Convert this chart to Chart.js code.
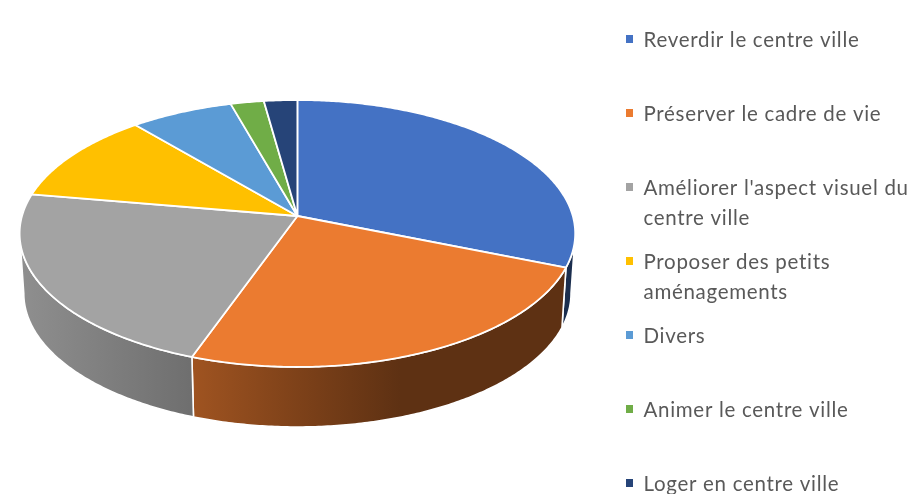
<!DOCTYPE html>
<html>
<head>
<meta charset="utf-8">
<script src="https://cdn.jsdelivr.net/npm/chart.js@4"></script>
<style>
html, body { margin: 0; padding: 0; background: #fff; overflow: hidden; }
canvas { display: block; filter: blur(0.45px); }
</style>
</head>
<body>
<canvas id="PieChart" width="914" height="494"></canvas>
<script>
const categories = [
    'Reverdir le centre ville',
    'Préserver le cadre de vie',
    ["Améliorer l'aspect visuel du", 'centre ville'],
    ['Proposer des petits', 'aménagements'],
    'Divers',
    'Animer le centre ville',
    'Loger en centre ville'
];
const seriesValues = [31.1, 24.35, 22.25, 11.1, 6.8, 2.2, 2.2];
const sliceColors = ['#4472C4', '#EB7B30', '#A3A3A3', '#FFC000', '#5B9BD5', '#70AD47', '#264478'];

// perspective of the tilted disc
const disc = { cx: 297.4, cy: 216, a: 275.4, b: 131.2, k: 0.131, depth: 60, shrink: 0.985 };
// wall darkness along x
const wallShade = [[20, 0.88], [190, 0.68], [300, 0.53], [400, 0.4], [575, 0.4]];

function rimPoint(angle) {
    const u = Math.cos(angle), v = Math.sin(angle);
    const w = 1 / (1 - disc.k * v);
    return { x: disc.cx + disc.a * u * w, y: disc.cy + disc.b * v * w };
}

function rimPoints(start, end) {
    const pts = [];
    const steps = Math.max(2, Math.ceil((end - start) / 0.01));
    for (let i = 0; i <= steps; i++) {
        pts.push(rimPoint(start + (end - start) * i / steps));
    }
    return pts;
}

function wallGradient(ctx, hex) {
    const r = parseInt(hex.slice(1, 3), 16), g = parseInt(hex.slice(3, 5), 16), b = parseInt(hex.slice(5, 7), 16);
    const x0 = wallShade[0][0], x1 = wallShade[wallShade.length - 1][0];
    const grad = ctx.createLinearGradient(x0, 0, x1, 0);
    wallShade.forEach(function (s) {
        grad.addColorStop((s[0] - x0) / (x1 - x0), 'rgb(' + r * s[1] + ',' + g * s[1] + ',' + b * s[1] + ')');
    });
    return grad;
}

const tiltedPie = {
    id: 'tiltedPie',
    beforeDatasetDraw(chart) {
        const ctx = chart.ctx;
        const arcs = chart.getDatasetMeta(0).data;
        const colors = chart.data.datasets[0].backgroundColor;
        const visStart = 7.5 * Math.PI / 180, visEnd = 172.5 * Math.PI / 180;
        ctx.save();
        ctx.strokeStyle = '#fff';
        ctx.lineJoin = 'round';

        // walls
        ctx.lineWidth = 1.6;
        arcs.forEach(function (arc, i) {
            const s = Math.max(arc.startAngle, visStart), e = Math.min(arc.endAngle, visEnd);
            if (e <= s) return;
            const top = rimPoints(s, e);
            ctx.beginPath();
            top.forEach(function (p, j) { j ? ctx.lineTo(p.x, p.y) : ctx.moveTo(p.x, p.y); });
            top.reverse().forEach(function (p) {
                ctx.lineTo(disc.cx + (p.x - disc.cx) * disc.shrink, p.y + disc.depth);
            });
            ctx.closePath();
            ctx.fillStyle = wallGradient(ctx, colors[i]);
            ctx.fill();
            ctx.stroke();
        });

        // top face
        ctx.lineWidth = 1.8;
        arcs.forEach(function (arc, i) {
            ctx.beginPath();
            ctx.moveTo(disc.cx, disc.cy);
            rimPoints(arc.startAngle, arc.endAngle).forEach(function (p) { ctx.lineTo(p.x, p.y); });
            ctx.closePath();
            ctx.fillStyle = colors[i];
            ctx.fill();
            ctx.stroke();
        });
        ctx.restore();
        return false;
    }
};

const sideLegend = {
    id: 'sideLegend',
    afterDraw(chart) {
        const ctx = chart.ctx;
        ctx.save();
        ctx.font = '20.5px Lato';
        ctx.letterSpacing = '0.7px';
        ctx.textBaseline = 'alphabetic';
        chart.data.labels.forEach(function (label, i) {
            const mid = 39 + i * 74;
            ctx.fillStyle = chart.data.datasets[0].backgroundColor[i];
            ctx.fillRect(626, mid - 4, 7, 8);
            ctx.fillStyle = '#595959';
            [].concat(label).forEach(function (line, j) {
                ctx.fillText(line, 643.5, mid + 8 + j * 29.5);
            });
        });
        ctx.restore();
    }
};

new Chart(document.getElementById('PieChart').getContext('2d'), {
    type: 'pie',
    data: {
        labels: categories,
        datasets: [{ data: seriesValues, backgroundColor: sliceColors, borderColor: '#fff' }]
    },
    options: {
        responsive: false,
        animation: false,
        plugins: { legend: { display: false }, tooltip: { enabled: false } }
    },
    plugins: [tiltedPie, sideLegend]
});
</script>
</body>
</html>
